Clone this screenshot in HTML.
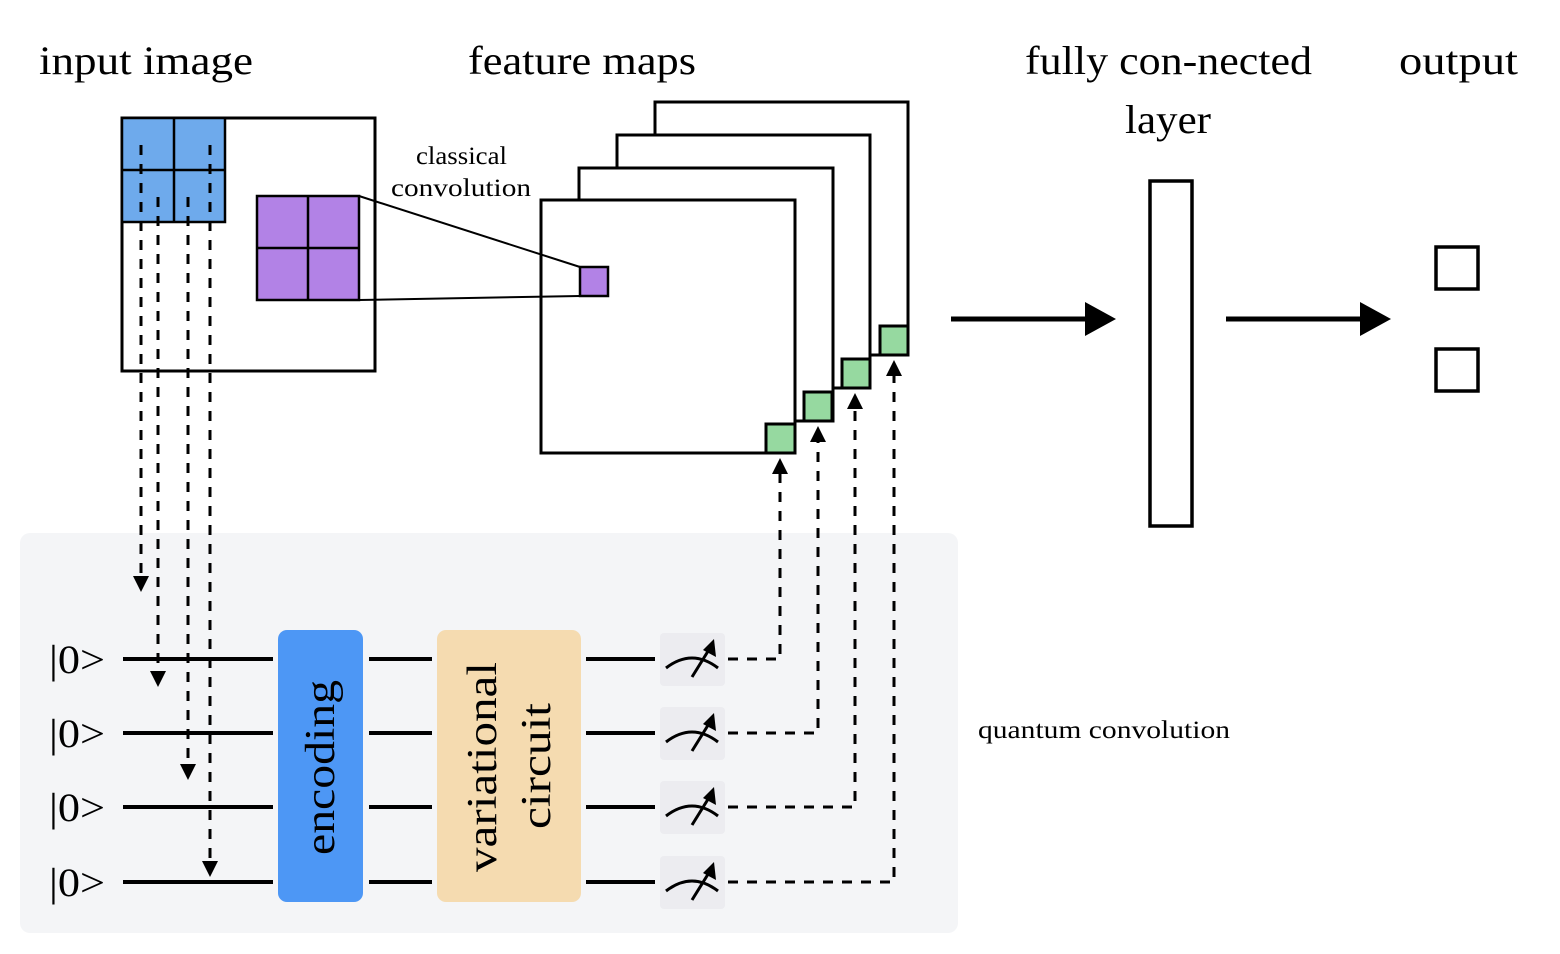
<!DOCTYPE html>
<html><head><meta charset="utf-8"><style>html,body{margin:0;padding:0;background:#fff}svg{display:block}</style></head>
<body>
<svg width="1560" height="954" viewBox="0 0 1560 954" xmlns="http://www.w3.org/2000/svg" font-family="Liberation Serif, serif">
<!-- titles -->
<text x="39" y="74" font-size="40" textLength="214" lengthAdjust="spacingAndGlyphs">input image</text>
<text x="468" y="74" font-size="40" textLength="228" lengthAdjust="spacingAndGlyphs">feature maps</text>
<text x="1025" y="74" font-size="40" textLength="287" lengthAdjust="spacingAndGlyphs">fully con-nected</text>
<text x="1125" y="133" font-size="40" textLength="86" lengthAdjust="spacingAndGlyphs">layer</text>
<text x="1399" y="74" font-size="40" textLength="119" lengthAdjust="spacingAndGlyphs">output</text>
<text x="416" y="164" font-size="25" textLength="91" lengthAdjust="spacingAndGlyphs">classical</text>
<text x="391" y="196" font-size="25" textLength="140" lengthAdjust="spacingAndGlyphs">convolution</text>

<!-- panel -->
<rect x="20" y="533" width="938" height="400" rx="10" fill="#f4f5f7"/>
<text x="978" y="738" font-size="25" textLength="252" lengthAdjust="spacingAndGlyphs">quantum convolution</text>

<!-- input image -->
<rect x="122" y="118" width="253" height="253" fill="#fff" stroke="#000" stroke-width="3"/>
<rect x="122" y="118" width="103" height="104" fill="#6eaaec" stroke="#000" stroke-width="2.5"/>
<line x1="174" y1="118" x2="174" y2="222" stroke="#000" stroke-width="2.5"/>
<line x1="122" y1="170" x2="225" y2="170" stroke="#000" stroke-width="2.5"/>
<rect x="257" y="196" width="102" height="104" fill="#b282e6" stroke="#000" stroke-width="2.5"/>
<line x1="308" y1="196" x2="308" y2="300" stroke="#000" stroke-width="2.5"/>
<line x1="257" y1="248" x2="359" y2="248" stroke="#000" stroke-width="2.5"/>

<!-- feature maps -->
<g stroke="#000" stroke-width="3" fill="#fff">
<rect x="655" y="102" width="253" height="253"/>
<rect x="617" y="135" width="253" height="253"/>
<rect x="579" y="168" width="254" height="253"/>
<rect x="541" y="200" width="254" height="253"/>
</g>
<g stroke="#000" stroke-width="3" fill="#96d9a0">
<rect x="880" y="326" width="28" height="29"/>
<rect x="842" y="359" width="28" height="29"/>
<rect x="804" y="392" width="28" height="29"/>
<rect x="766" y="424" width="29" height="29"/>
</g>
<line x1="359" y1="196" x2="580" y2="267" stroke="#000" stroke-width="2"/>
<line x1="359" y1="300" x2="580" y2="296" stroke="#000" stroke-width="2"/>
<rect x="580" y="267" width="28" height="29" fill="#b282e6" stroke="#000" stroke-width="2.5"/>

<!-- input dashed arrows -->
<g stroke="#000" stroke-width="3" stroke-dasharray="10,9" fill="none">
<line x1="141" y1="145" x2="141" y2="578"/>
<line x1="158" y1="197" x2="158" y2="673"/>
<line x1="188" y1="197" x2="188" y2="766"/>
<line x1="210" y1="145" x2="210" y2="863"/>
</g>
<g fill="#000">
<path d="M133,576 L149,576 L141,592 z"/>
<path d="M150,671 L166,671 L158,687 z"/>
<path d="M180,764 L196,764 L188,780 z"/>
<path d="M202,861 L218,861 L210,877 z"/>
</g>

<!-- wires -->
<g stroke="#000" stroke-width="4">
<line x1="123" y1="659" x2="273" y2="659"/><line x1="369" y1="659" x2="432" y2="659"/><line x1="586" y1="659" x2="655" y2="659"/>
<line x1="123" y1="733" x2="273" y2="733"/><line x1="369" y1="733" x2="432" y2="733"/><line x1="586" y1="733" x2="655" y2="733"/>
<line x1="123" y1="807" x2="273" y2="807"/><line x1="369" y1="807" x2="432" y2="807"/><line x1="586" y1="807" x2="655" y2="807"/>
<line x1="123" y1="882" x2="273" y2="882"/><line x1="369" y1="882" x2="432" y2="882"/><line x1="586" y1="882" x2="655" y2="882"/>
</g>
<g font-size="40">
<text x="49" y="673" textLength="56" lengthAdjust="spacingAndGlyphs">|0&gt;</text>
<text x="49" y="747" textLength="56" lengthAdjust="spacingAndGlyphs">|0&gt;</text>
<text x="49" y="821" textLength="56" lengthAdjust="spacingAndGlyphs">|0&gt;</text>
<text x="49" y="896" textLength="56" lengthAdjust="spacingAndGlyphs">|0&gt;</text>
</g>

<rect x="278" y="630" width="85" height="272" rx="9" fill="#4d97f5"/>
<rect x="437" y="630" width="144" height="272" rx="9" fill="#f5dbb0"/>
<text transform="translate(334,855) rotate(-90)" font-size="42" textLength="175" lengthAdjust="spacingAndGlyphs">encoding</text>
<text transform="translate(496,872) rotate(-90)" font-size="42" textLength="210" lengthAdjust="spacingAndGlyphs">variational</text>
<text transform="translate(550,829) rotate(-90)" font-size="42" textLength="126" lengthAdjust="spacingAndGlyphs">circuit</text>

<!-- meters -->
<g id="m">
<rect x="660" y="633" width="65" height="53" rx="4" fill="#ececf0"/>
<path d="M666,668 Q692,648 718,668" stroke="#000" stroke-width="3" fill="none"/>
<line x1="692" y1="677" x2="710" y2="648" stroke="#000" stroke-width="3"/>
<path d="M714,639 L716,657 L703,650 z" fill="#000"/>
</g>
<use href="#m" y="74"/>
<use href="#m" y="148"/>
<use href="#m" y="223"/>

<!-- output dashed -->
<g stroke="#000" stroke-width="3" stroke-dasharray="10,9" fill="none">
<polyline points="728,659 780,659 780,470"/>
<polyline points="728,733 818,733 818,438"/>
<polyline points="728,807 855,807 855,405"/>
<polyline points="728,882 894,882 894,372"/>
</g>
<g fill="#000">
<path d="M772,474 L788,474 L780,458 z"/>
<path d="M810,442 L826,442 L818,426 z"/>
<path d="M847,409 L863,409 L855,393 z"/>
<path d="M886,376 L902,376 L894,360 z"/>
</g>

<!-- arrows -->
<line x1="951" y1="319" x2="1090" y2="319" stroke="#000" stroke-width="5"/>
<path d="M1085,302 L1116,319 L1085,336 z" fill="#000"/>
<line x1="1226" y1="319" x2="1365" y2="319" stroke="#000" stroke-width="5"/>
<path d="M1360,302 L1391,319 L1360,336 z" fill="#000"/>

<rect x="1150" y="181" width="42" height="345" fill="#fff" stroke="#000" stroke-width="3.5"/>
<rect x="1436" y="247" width="42" height="42" fill="#fff" stroke="#000" stroke-width="3.5"/>
<rect x="1436" y="349" width="42" height="42" fill="#fff" stroke="#000" stroke-width="3.5"/>
</svg>
</body></html>
